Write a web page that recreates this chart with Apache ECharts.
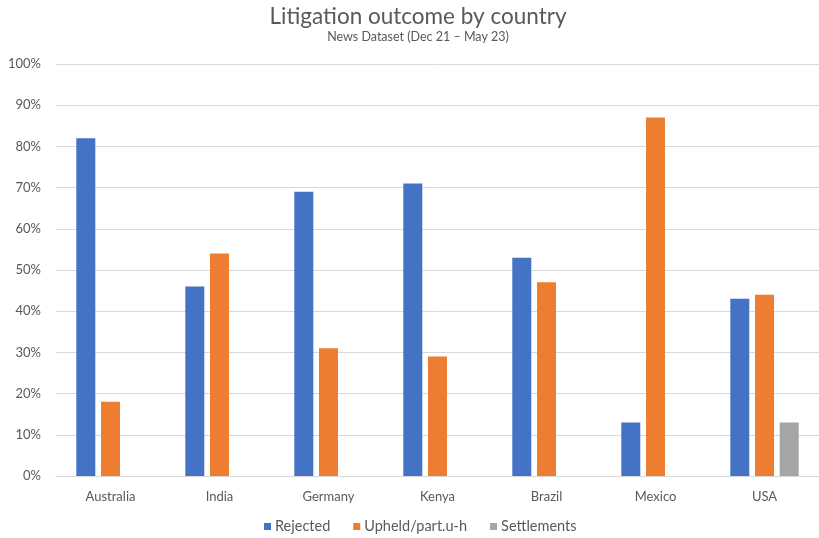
<!DOCTYPE html>
<html>
<head>
<meta charset="utf-8">
<script src="https://cdn.jsdelivr.net/npm/echarts@6/dist/echarts.min.js"></script>
<style>
  html, body { margin: 0; padding: 0; background: #fff; }
  #chart { width: 819px; height: 538px; }
</style>
</head>
<body>
<div id="chart"></div>
<script>
// Share of court outcomes per country, in percent
const countries = ['Australia', 'India', 'Germany', 'Kenya', 'Brazil', 'Mexico', 'USA'];
const rejected = [82, 46, 69, 71, 53, 13, 43];
const upheld = [18, 54, 31, 29, 47, 87, 44];
const settlements = [0, 0, 0, 0, 0, 0, 13];
const seriesNames = ['Rejected', 'Upheld/part.u-h', 'Settlements'];
const yTicks = [0, 10, 20, 30, 40, 50, 60, 70, 80, 90, 100];

const FONT = 'Lato, "Open Sans", sans-serif';
const TEXT = '#595959';

const chart = echarts.init(document.getElementById('chart'), null, { renderer: 'canvas' });

function barSeries(name, values, color) {
  return {
    name: name,
    type: 'bar',
    data: values,
    barWidth: 19,
    barGap: '30%',
    itemStyle: { color: color },
    emphasis: { disabled: true }
  };
}

chart.setOption({
  animation: false,
  backgroundColor: '#ffffff',
  title: {
    text: 'Litigation outcome by country',
    subtext: 'News Dataset (Dec 21 \u2013 May 23)',
    left: 413,
    textAlign: 'center',
    top: 0,
    itemGap: 2,
    textStyle: { fontFamily: FONT, fontSize: 22.5, fontWeight: 'normal', color: TEXT },
    subtextStyle: { fontFamily: FONT, fontSize: 12.5, color: TEXT }
  },
  legend: {
    data: seriesNames,
    bottom: -1,
    left: 259,
    itemWidth: 7,
    itemHeight: 7,
    itemGap: 23,
    icon: 'rect',
    textStyle: { fontFamily: FONT, fontSize: 14.5, color: TEXT, padding: [0, 0, 0, -1] }
  },
  grid: { left: 56, top: 64, width: 769, height: 412, containLabel: false },
  xAxis: {
    type: 'category',
    data: countries,
    axisLine: { show: true, lineStyle: { color: '#D9D9D9', width: 1 } },
    axisTick: { show: false },
    axisLabel: { fontFamily: FONT, fontSize: 13, color: TEXT, margin: 14 }
  },
  yAxis: {
    type: 'value',
    min: yTicks[0],
    max: yTicks[yTicks.length - 1],
    interval: 10,
    axisLine: { show: false },
    axisTick: { show: false },
    splitLine: { lineStyle: { color: '#D9D9D9', width: 1 } },
    axisLabel: {
      fontFamily: FONT, fontSize: 13, color: TEXT, margin: 15,
      formatter: v => v + '%'
    }
  },
  series: [
    barSeries(seriesNames[0], rejected, '#4472C4'),
    barSeries(seriesNames[1], upheld, '#ED7D31'),
    barSeries(seriesNames[2], settlements, '#A5A5A5')
  ]
});
</script>
</body>
</html>
